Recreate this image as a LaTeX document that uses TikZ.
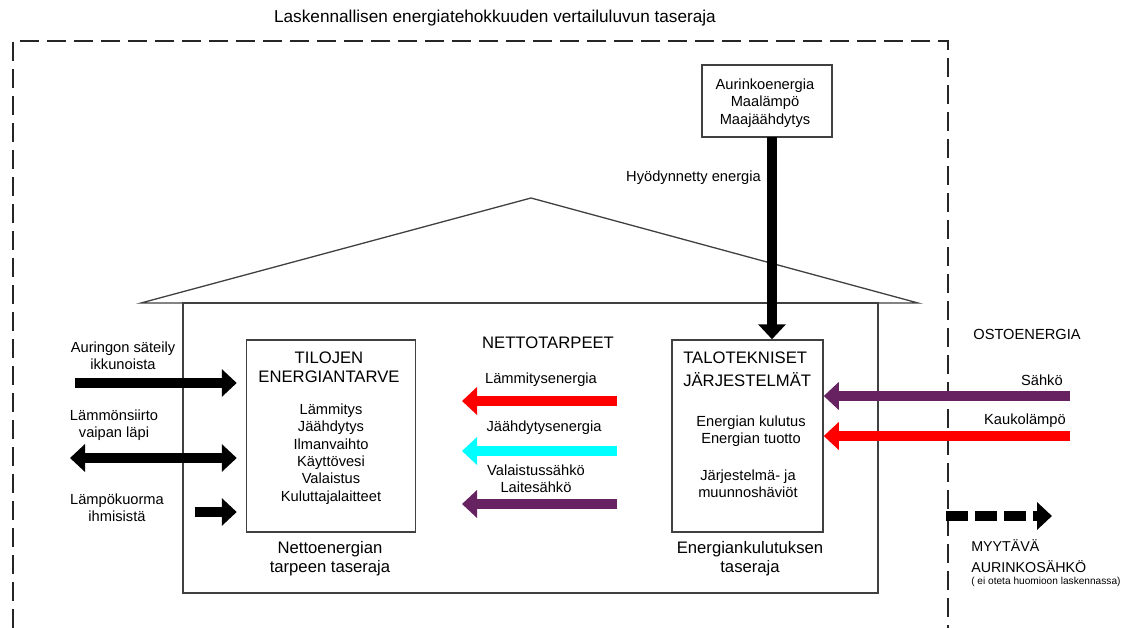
\documentclass[tikz,border=0pt]{standalone}
\usepackage{fontspec}
\setmainfont{Liberation Sans}
\usetikzlibrary{arrows.meta}

\newlength{\du}
\setlength{\du}{0.75pt}

\definecolor{linegray}{rgb}{0.250000, 0.250000, 0.250000}
\definecolor{lammred}{rgb}{1.000000, 0.000000, 0.000000}
\definecolor{jaahcyan}{rgb}{0.000000, 1.000000, 1.000000}
\definecolor{sahkopurple}{rgb}{0.400000, 0.133000, 0.380000}

% arrow tip sizes in pt (27 x 15 px)
\tikzset{
  taseraja/.style={draw=black!85, line width=2\du, dash pattern=on 19\du off 8\du},
  talo/.style={draw=linegray, line width=1.3\du},
  tasebox/.style={draw=linegray, line width=1.5\du, inner sep=0pt},
  fat/.style={line width=10\du, -{Triangle[width=20.25pt,length=11.25pt]}},
  fatboth/.style={line width=10\du, {Triangle[width=20.25pt,length=11.25pt]}-{Triangle[width=20.25pt,length=11.25pt]}},
  txt/.style={inner sep=0pt, align=center, font=\fontsize{11pt}{13pt}\selectfont},
  head/.style={inner sep=0pt, align=center, font=\fontsize{12.5pt}{14.25pt}\selectfont},
  pieni/.style={inner sep=0pt, align=left, font=\fontsize{7.6pt}{9pt}\selectfont}
}

\begin{document}
\begin{tikzpicture}
\pgftransformxscale{1.000000}
\pgftransformyscale{-1.000000}
\useasboundingbox (0\du,0\du) rectangle (1133\du,628\du);

% vertailuluvun taseraja
\node[txt, font=\fontsize{12.9pt}{14pt}\selectfont] (otsikko) at (495\du,18\du) {Laskennallisen energiatehokkuuden vertailuluvun taseraja};
\draw[taseraja] (13\du,628\du)--(13\du,41\du)--(948\du,41\du)--(948\du,628\du);

% rakennus
\draw[talo] (141\du,303\du)--(531\du,198\du)--(918\du,303\du)--cycle;
\draw[talo] (183\du,303\du) rectangle (878\du,593\du);

% laatikot
\node[tasebox, minimum width=169\du, minimum height=192\du] (tilojen) at (331\du,436\du) {};
\node[tasebox, minimum width=151\du, minimum height=192\du] (jarj) at (747.5\du,436\du) {};
\node[tasebox, minimum width=130\du, minimum height=72\du] (uusiutuva) at (767\du,101\du) {};

\node[head] (tilojenotsikko) at (329\du,367\du) {TILOJEN\\ENERGIANTARVE};
\node[txt] (tarpeet) at (331\du,454\du) {Lämmitys\\Jäähdytys\\Ilmanvaihto\\Käyttövesi\\Valaistus\\Kuluttajalaitteet};
\node[head] (nettoraja) at (330\du,559\du) {Nettoenergian\\tarpeen taseraja};

\node[head, align=left, anchor=west, font=\fontsize{12.5pt}{17.5pt}\selectfont] (jarjotsikko) at (683\du,369\du) {TALOTEKNISET\\JÄRJESTELMÄT};
\node[txt] (kulutus) at (751\du,431\du) {Energian kulutus\\Energian tuotto};
\node[txt] (haviot) at (748\du,484\du) {Järjestelmä- ja\\muunnoshäviöt};
\node[head] (kulutusraja) at (750\du,559\du) {Energiankulutuksen\\taseraja};

\node[txt] (lahteet) at (765\du,103\du) {Aurinkoenergia\\Maalämpö\\Maajäähdytys};
\node[txt, anchor=east] (hyoty) at (761\du,178\du) {Hyödynnetty energia};

% vasen puoli
\node[txt] (aurinko) at (123\du,356\du) {Auringon säteily\\ikkunoista};
\node[txt] (vaippa) at (114\du,425\du) {Lämmönsiirto\\vaipan läpi};
\node[txt] (ihmiset) at (117\du,508\du) {Lämpökuorma\\ihmisistä};

\coordinate (aurinkoA) at (75\du,383\du);
\coordinate (vaippaA) at (70\du,458\du);
\coordinate (ihmisetA) at (195\du,512\du);
\draw[fat, shorten >=6.75pt] (aurinkoA) -- (tilojen.west |- aurinkoA);
\draw[fatboth, shorten >=6.75pt] (vaippaA) -- (tilojen.west |- vaippaA);
\draw[fat, shorten >=6.75pt] (ihmisetA) -- (tilojen.west |- ihmisetA);

% nettotarpeet
\node[head] (netto) at (548\du,343\du) {NETTOTARPEET};
\node[txt] (lammitys) at (541\du,380\du) {Lämmitysenergia};
\node[txt] (jaahdytys) at (544\du,428\du) {Jäähdytysenergia};
\node[txt] (valaistus) at (536\du,479\du) {Valaistussähkö\\Laitesähkö};

\coordinate (lammA) at (617\du,401\du);
\coordinate (jaahA) at (617\du,451\du);
\coordinate (valA) at (617\du,504\du);
\coordinate (lammB) at (462\du,401\du);
\coordinate (jaahB) at (462\du,451\du);
\coordinate (valB) at (462\du,504\du);
\draw[fat, lammred] (lammA) -- (lammB);
\draw[fat, jaahcyan] (jaahA) -- (jaahB);
\draw[fat, sahkopurple] (valA) -- (valB);

% hyodynnetty energia
\coordinate (hyotyA) at (772\du,137\du);
\draw[fat] (hyotyA) -- (hyotyA |- jarj.north);

% ostoenergia
\node[txt] (osto) at (1027\du,334\du) {OSTOENERGIA};
\node[txt, anchor=east] (sahko) at (1063\du,380\du) {Sähkö};
\node[txt, anchor=east] (kauko) at (1066\du,421\du) {Kaukolämpö};
\coordinate (sahkoA) at (1070\du,396\du);
\coordinate (kaukoA) at (1070\du,436\du);
\draw[fat, sahkopurple] (sahkoA) -- (sahkoA -| jarj.east);
\draw[fat, lammred] (kaukoA) -- (kaukoA -| jarj.east);

% myytava aurinkosahko
\coordinate (myyA) at (946\du,516\du);
\coordinate (myyB) at (1052\du,516\du);
\draw[fat, dash pattern=on 16.5pt off 5.25pt] (myyA) -- (myyB);
\node[txt, align=left, anchor=west, font=\fontsize{10.7pt}{15.5pt}\selectfont] (myyta) at (971\du,556\du) {MYYTÄVÄ\\AURINKOSÄHKÖ};
\node[pieni, anchor=west] (huom) at (971\du,582\du) {( ei oteta huomioon laskennassa)};
\end{tikzpicture}
\end{document}
